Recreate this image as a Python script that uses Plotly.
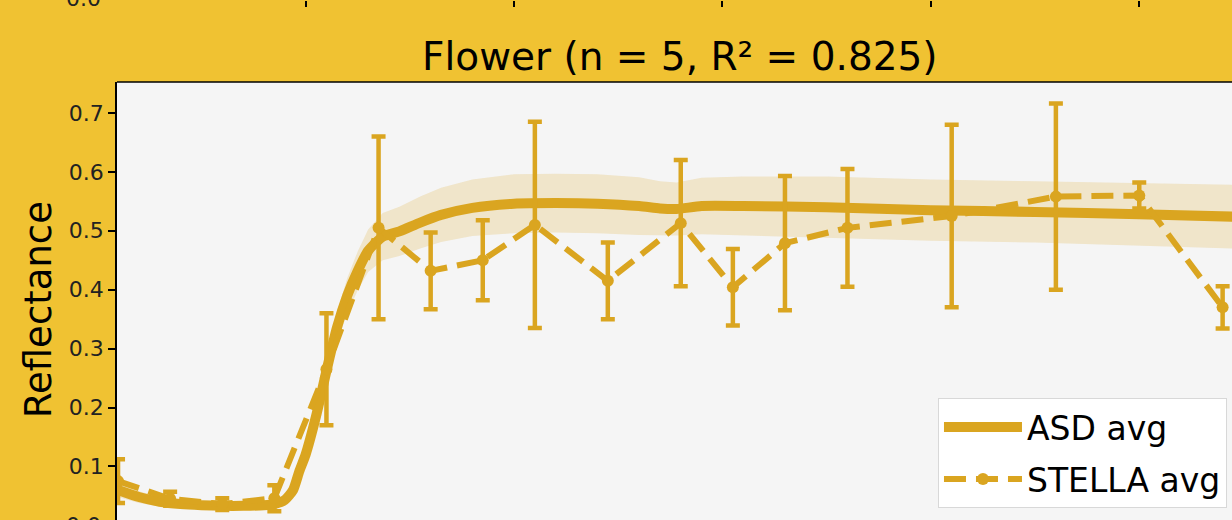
import plotly.graph_objects as go

# ASD spectrometer average (smooth curve) and its spread
ASD_WL = [410, 420, 430, 440, 450, 460, 470, 480, 485, 490, 494, 497, 500, 505, 510,
          515, 520, 525, 530, 537, 545, 555, 565, 580, 600, 620, 640, 660, 670, 678,
          690, 710, 750, 800, 850, 900, 945]
ASD_AVG = [0.060, 0.048, 0.040, 0.036, 0.034, 0.033, 0.033, 0.034, 0.036, 0.043, 0.060,
           0.092, 0.120, 0.185, 0.262, 0.335, 0.390, 0.432, 0.466, 0.490, 0.499, 0.514,
           0.527, 0.539, 0.546, 0.547, 0.546, 0.542, 0.538, 0.537, 0.542, 0.542, 0.540,
           0.535, 0.532, 0.528, 0.524]
ASD_STD = [0.012, 0.010, 0.008, 0.007, 0.007, 0.007, 0.007, 0.007, 0.007, 0.008, 0.010,
           0.012, 0.014, 0.018, 0.022, 0.026, 0.030, 0.033, 0.036, 0.040, 0.042, 0.044,
           0.046, 0.048, 0.050, 0.050, 0.050, 0.049, 0.046, 0.045, 0.048, 0.050, 0.052,
           0.052, 0.052, 0.053, 0.054]

# STELLA sensor bands (AS7265x channels)
STELLA_WL = [410, 435, 460, 485, 510, 535, 560, 585, 610, 645, 680, 705, 730, 760, 810, 860, 900, 940]
STELLA_AVG = [0.075, 0.045, 0.036, 0.046, 0.265, 0.505, 0.432, 0.450, 0.510, 0.415,
              0.513, 0.404, 0.479, 0.505, 0.525, 0.558, 0.560, 0.370]
STELLA_ERR = [0.037, 0.012, 0.010, 0.022, 0.095, 0.155, 0.065, 0.068, 0.175, 0.065,
              0.107, 0.065, 0.114, 0.100, 0.155, 0.158, 0.022, 0.036]

TICK_WL = [500, 600, 700, 800, 900]
Y_TICKS = [0.1, 0.2, 0.3, 0.4, 0.5, 0.6, 0.7]

GOLD = "#DAA520"
FONT = "DejaVu Sans"

upper = [a + s for a, s in zip(ASD_AVG, ASD_STD)]
lower = [a - s for a, s in zip(ASD_AVG, ASD_STD)]

fig = go.Figure()

# shaded +/- std band
fig.add_trace(go.Scatter(
    x=ASD_WL + ASD_WL[::-1],
    y=upper + lower[::-1],
    fill="toself",
    fillcolor="rgba(218,165,32,0.2)",
    line=dict(width=0),
    mode="lines",
    showlegend=False,
    hoverinfo="skip",
))

fig.add_trace(go.Scatter(
    x=ASD_WL, y=ASD_AVG,
    mode="lines",
    line_shape="spline",
    name="ASD avg",
    legendgroup="a",
    line=dict(color=GOLD, width=10, smoothing=0.6),
))

fig.add_trace(go.Scatter(
    x=STELLA_WL, y=STELLA_AVG,
    mode="lines+markers",
    name="STELLA avg",
    legendgroup="b",
    line=dict(color=GOLD, width=6, dash="22px,10px"),
    marker=dict(color=GOLD, size=12),
    error_y=dict(type="data", array=STELLA_ERR, color=GOLD, thickness=4.5, width=7),
))

# empty trace so the top axis (ticks of the panel above) gets drawn
fig.add_trace(go.Scatter(x=[], y=[], xaxis="x2", showlegend=False, hoverinfo="skip"))

plot_top = 438 / 520

fig.update_layout(
    width=1232, height=520,
    margin=dict(l=117, r=0, t=0, b=0),
    paper_bgcolor="#F0C232",
    plot_bgcolor="#F5F5F5",
    font=dict(family=FONT, color="black"),
    xaxis=dict(range=[409.5, 944.5], showgrid=False, zeroline=False, showline=False,
               showticklabels=False, ticks="", automargin=False),
    xaxis2=dict(overlaying="x", matches="x", anchor="free", position=1.0, side="bottom",
                tickvals=TICK_WL, ticks="outside", ticklen=6, tickwidth=1.5,
                tickcolor="black", showticklabels=False, showgrid=False,
                zeroline=False, showline=False),
    yaxis=dict(domain=[0, plot_top], range=[0.009, 0.7526], tickvals=Y_TICKS,
               tickformat=".1f", ticks="outside", ticklen=7, tickwidth=1.5,
               tickcolor="black", tickfont=dict(size=22, color="#222"),
               showgrid=False, zeroline=False, showline=True, linecolor="black",
               linewidth=1.5, automargin=False),
    legend=dict(x=0.9955, y=0.023, xanchor="right", yanchor="bottom",
                bgcolor="white", bordercolor="#D8D8D8", borderwidth=1,
                font=dict(size=33, family=FONT), itemwidth=78, tracegroupgap=6),
    shapes=[dict(type="line", xref="paper", yref="paper", x0=0, x1=1,
                 y0=plot_top, y1=plot_top, line=dict(color="black", width=1.5))],
    annotations=[
        dict(text="Flower (n = 5, R² = 0.825)", xref="paper", yref="paper",
             x=(680 - 117) / 1115, y=1 - 56 / 520, xanchor="center", yanchor="middle",
             showarrow=False, font=dict(size=39, family=FONT)),
        dict(text="Reflectance", xref="paper", yref="paper", x=0, y=(520 - 310) / 520,
             xanchor="center", yanchor="middle", xshift=-79, textangle=-90,
             showarrow=False, font=dict(size=37, family=FONT)),
        # tick labels of the neighbouring panels, cut by the frame
        dict(text="0.0", xref="paper", yref="paper", x=0, y=1, xanchor="right",
             yanchor="middle", xshift=-14, yshift=2, showarrow=False,
             font=dict(size=22, family=FONT, color="#222")),
        dict(text="0.0", xref="paper", yref="paper", x=0, y=0, xanchor="right",
             yanchor="middle", xshift=-14, yshift=-5, showarrow=False,
             font=dict(size=22, family=FONT, color="#222")),
    ],
)

fig.write_html("out.html", config={"displayModeBar": False},
               post_script="document.body.style.margin='0';document.body.style.overflow='hidden';")
